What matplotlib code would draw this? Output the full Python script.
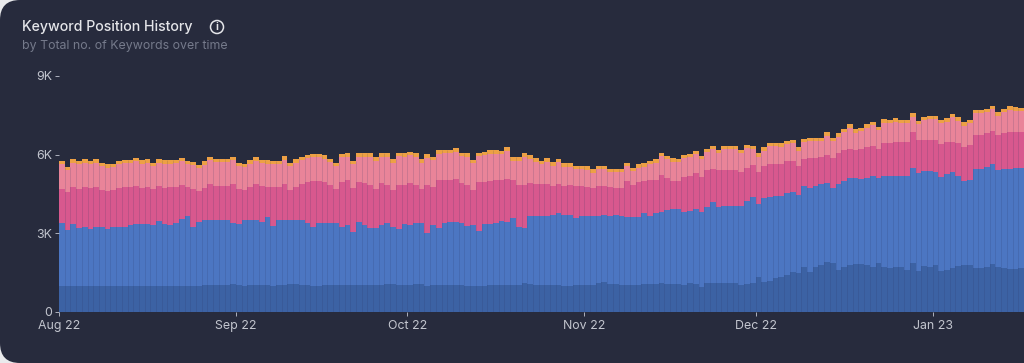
import matplotlib
matplotlib.use('Agg')
import matplotlib.pyplot as plt
from matplotlib.patches import FancyBboxPatch, Circle
from matplotlib.transforms import IdentityTransform
import numpy as np

plt.rcParams['font.family'] = ['Inter', 'DejaVu Sans']

# Tops of each stacked band, one value per day from 1 Aug 22
top_dark = [
    980,980,990,985,1000,990,980,1000,990,985,1000,1000,1005,995,990,1000,1010,1005,1000,1005,1000,1000,990,1010,1000,1020,1040,1020,1030,1030,1050,
    1020,1010,1030,1040,1040,1020,1000,1020,1030,1060,1060,1040,1020,1000,1010,1020,1020,1030,
    1030,1040,1030,1040,1030,1030,1040,1040,1050,1060,1030,1030,1040,1050,1050,1010,1030,1040,1040,1030,1030,1020,1000,1000,990,1010,1020,1030,1040,1030,
    1020,1040,1120,1050,1030,1020,1020,1030,1020,1010,1010,1020,1030,1030,1030,1100,1140,1060,1050,1040,1030,1030,1040,1080,1070,1070,1090,1070,1080,1080,
    1030,1090,1070,970,1090,1120,1120,1120,1120,1090,1030,1070,1090,1320,1160,1190,1290,1350,1410,1540,1470,1730,1540,1730,1790,1920,1860,1600,1730,1790,
    1830,1830,1790,1730,1860,1730,1660,1730,1710,1620,1860,1580,1760,1730,1790,1580,1600,1690,1760,1790,1790,1660,1660,1730,1830,1730,1660,1640,1640,1660,
]
top_blue = [
    3380,3130,3360,3190,3260,3170,3230,3260,3150,3230,3260,3260,3320,3350,3350,3350,3300,3470,3350,3320,3410,3540,3660,3260,3430,3510,3510,3490,3490,3510,3380,
    3360,3490,3490,3490,3430,3640,3280,3490,3490,3490,3510,3510,3410,3230,3380,3380,3380,3380,
    3260,3320,3060,3450,3320,3220,3190,3320,3380,3260,3150,3360,3320,3380,3410,3030,3320,3190,3410,3430,3430,3380,3280,3320,3090,3340,3360,3380,3480,3450,
    3600,3260,3220,3670,3670,3670,3670,3700,3760,3700,3700,3570,3670,3670,3670,3670,3700,3670,3700,3670,3640,3610,3640,3760,3670,3760,3830,3890,3920,3940,
    3830,3870,3920,3830,4000,4210,4020,4040,4040,4040,4060,4250,4380,4120,4340,4380,4410,4410,4530,4590,4470,4790,4720,4790,4890,4910,4720,4890,5010,5100,
    5100,5080,5100,5190,5100,5170,5170,5190,5190,5200,5490,5300,5360,5360,5330,5140,5250,5320,5190,5010,5040,5450,5450,5520,5650,5420,5450,5450,5490,5490,
]
top_magenta = [
    4700,4560,4760,4700,4760,4720,4770,4640,4620,4640,4720,4760,4750,4810,4740,4780,4680,4800,4740,4750,4780,4850,4760,4700,4620,4730,4900,4820,4820,4810,4900,
    4700,4660,4770,4880,4790,4770,4760,4750,4900,4670,4780,4880,4960,5000,5000,4950,4830,4700,
    4970,5040,4720,4970,4910,4840,4680,4910,4840,4650,4840,4840,4910,4840,4680,4840,4780,5040,5040,5040,5060,4910,4840,4650,4970,4970,5010,5040,5040,5060,
    5040,4850,4860,4920,4900,4890,4900,4820,4900,4800,4840,4800,4790,4780,4710,4800,4790,4750,4730,4720,4990,4840,4960,5000,5020,5050,5230,5100,5010,5000,
    5160,5190,5290,5140,5420,5450,5420,5420,5420,5420,5320,5480,5610,5320,5570,5650,5650,5650,5740,5740,5570,5830,5870,5870,5930,6000,5870,6060,6160,6210,
    6180,6210,6280,6340,6210,6460,6460,6500,6500,6500,6880,6560,6560,6560,6560,6410,6500,6500,6460,6310,6370,6760,6760,6820,6920,6760,6840,6880,6880,6880,
]
top_pink = [
    5630,5410,5690,5630,5700,5640,5700,5550,5510,5530,5630,5670,5670,5740,5660,5700,5570,5700,5650,5660,5670,5750,5640,5590,5490,5610,5800,5710,5710,5710,5800,
    5570,5530,5650,5770,5670,5650,5640,5640,5810,5550,5690,5790,5860,5900,5900,5850,5710,5570,
    5900,5930,5640,5930,5930,5930,5770,5930,5930,5700,5950,5930,5980,5930,5700,5890,5800,6030,6050,6050,6120,5950,5930,5670,5950,5990,6030,6030,6010,6150,
    5770,5770,5930,5840,5730,5640,5730,5580,5710,5540,5540,5440,5440,5420,5310,5450,5450,5340,5320,5320,5570,5380,5500,5540,5640,5700,5950,5820,5730,5710,
    5860,5900,6020,5820,6090,6210,6050,6210,6210,6210,6050,6240,6210,5920,6150,6330,6330,6310,6400,6440,6150,6470,6520,6520,6520,6730,6520,6690,6850,7030,
    6840,6900,7030,7130,6940,7220,7200,7260,7200,7200,7450,7170,7320,7350,7350,7200,7260,7430,7300,7100,7200,7580,7580,7610,7730,7480,7610,7710,7680,7660,
]
top_orange = [
    5760,5540,5820,5760,5830,5770,5830,5680,5640,5660,5760,5800,5800,5870,5790,5830,5700,5830,5780,5790,5800,5880,5770,5720,5620,5740,5930,5840,5840,5840,5930,
    5700,5660,5780,5900,5800,5780,5770,5770,5940,5680,5820,5920,5990,6030,6030,5980,5840,5700,
    6030,6060,5770,6060,6060,6060,5900,6060,6060,5830,6080,6060,6110,6060,5830,6020,5930,6160,6180,6180,6250,6080,6060,5800,6080,6120,6160,6160,6140,6280,
    5900,5900,6060,5970,5860,5770,5860,5710,5840,5670,5670,5570,5570,5550,5440,5580,5580,5470,5450,5450,5700,5510,5630,5670,5770,5830,6080,5950,5860,5840,
    5990,6030,6150,5950,6220,6340,6180,6340,6340,6340,6180,6370,6340,6050,6280,6460,6460,6440,6530,6570,6280,6600,6650,6650,6650,6860,6650,6820,6980,7160,
    6970,7030,7160,7260,7070,7350,7330,7390,7330,7330,7580,7300,7450,7480,7480,7330,7390,7560,7430,7230,7330,7710,7710,7740,7860,7610,7740,7840,7810,7790,
]

month_labels = ['Aug 22', 'Sep 22', 'Oct 22', 'Nov 22', 'Dec 22', 'Jan 23']
month_starts = [0, 31, 61, 92, 122, 153]
y_ticks = [0, 3000, 6000, 9000]
y_labels = ['0', '3K', '6K', '9K']

bands = [top_dark, top_blue, top_magenta, top_pink, top_orange]
colors = ['#3C62A4', '#4C76C2', '#D8588E', '#E98499', '#EDA045']

BG = '#272B3D'
W, H = 1024, 363

fig = plt.figure(figsize=(W / 100, H / 100), dpi=100, facecolor='#E9EAEC')

# card with rounded corners on the left, runs off the right edge
card = FancyBboxPatch((0, 0), W + 40, H, boxstyle='round,pad=0,rounding_size=20',
                      transform=IdentityTransform(), facecolor=BG, edgecolor='none', zorder=-1)
fig.add_artist(card)

ax = fig.add_axes([59 / W, (H - 312) / H, (W - 59) / W, 236 / H])
ax.patch.set_alpha(0)

x = np.arange(len(top_orange))
bottom = np.zeros(len(x))
for band, color in zip(bands, colors):
    top = np.array(band, dtype=float)
    ax.bar(x, top - bottom, bottom=bottom, width=1, align='edge', color=color, linewidth=0)
    bottom = top

# faint lines between the daily bars
ax.vlines(x[1:], 0, np.minimum(top_orange[1:], top_orange[:-1]), color='#2A3560', alpha=0.16, linewidth=0.7)

ax.set_xlim(0, (W - 59) / 5.71)
ax.set_ylim(0, 9000)
for s in ax.spines.values():
    s.set_visible(False)

ax.set_xticks(month_starts)
ax.set_xticklabels(month_labels)
ax.set_yticks(y_ticks)
ax.set_yticklabels(y_labels)
ax.tick_params(axis='both', colors='#AEB2BE', labelcolor='#C3C6CF', labelsize=8.9, length=3, width=0.7, pad=2)
ax.tick_params(axis='x', pad=3)

fig.text(22 / W, 1 - 27 / H, 'Keyword Position History', color='#E4E5E9', fontsize=10.2,
         fontweight='medium', va='center', ha='left')
fig.text(22 / W, 1 - 46.5 / H, 'by Total no. of Keywords over time', color='#757A8B', fontsize=8.9,
         va='center', ha='left')

# info icon
fig.add_artist(Circle((217, H - 27), 6.5, transform=IdentityTransform(), facecolor='none',
                      edgecolor='#E4E5E9', linewidth=1.1))
fig.text(217 / W, 1 - 27 / H, 'i', color='#E4E5E9', fontsize=7.5, fontweight='bold', ha='center', va='center')

fig.savefig('out.png', dpi=100, facecolor=fig.get_facecolor())
